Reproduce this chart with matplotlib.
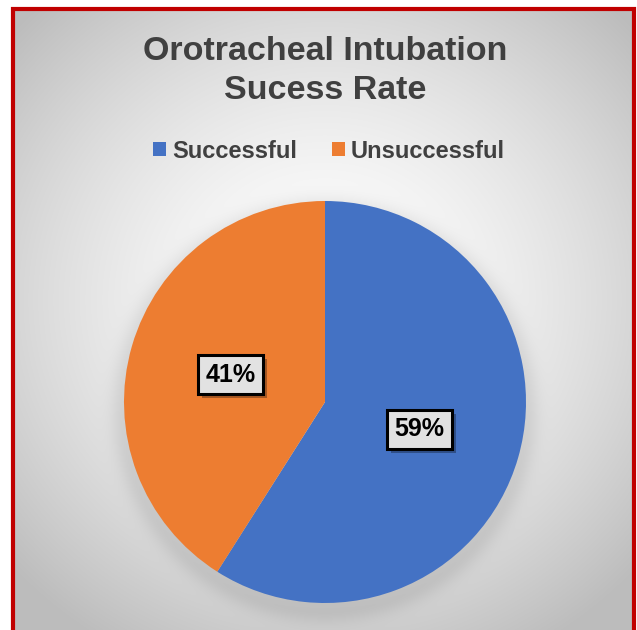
import numpy as np
import matplotlib.pyplot as plt
import matplotlib.patheffects as pe

plt.rcParams['font.family'] = ['Liberation Sans', 'DejaVu Sans']

# Data
categories = ['Successful', 'Unsuccessful']
values = [59, 41]
colors = ['#4472c4', '#ed7d31']
title = 'Orotracheal Intubation\nSucess Rate'

W, H = 637, 630
fig = plt.figure(figsize=(W / 100, H / 100), dpi=100)
fig.patch.set_facecolor('white')
ax = fig.add_axes([0, 0, 1, 1])
ax.axis('off')

# radial grey background with a soft halo under the pie (rows counted from the top)
yy, xx = np.mgrid[0:H, 0:W] + 0.5
r = np.hypot((xx - 325) / 420, (yy - 300) / 400)
bg = 1.0 - 0.26 * np.clip(r, 0, 1) ** 1.6
d = np.hypot(xx - 325, yy - 410)
halo = np.exp(-((d - 200).clip(0) / 14) ** 2) * 0.08
bg = bg - halo
bg[(xx < 13) | (xx > 634) | (yy < 9)] = 1.0
img = np.dstack([bg, bg, bg])
ax.imshow(img, extent=(0, W, 0, H), origin='upper', zorder=0, interpolation='bilinear')

# red frame (open at the bottom)
ax.plot([13, 13, 634, 634], [-10, H - 9, H - 9, -10], color='#c00000',
        lw=3, solid_joinstyle='miter', zorder=5)

# pie, clockwise from 12 o'clock
cx, cy, rad = 325, H - 402, 201
wedges, _, autotexts = ax.pie(values, colors=colors, startangle=90, counterclock=False,
                              center=(cx, cy), radius=rad, frame=True,
                              autopct=lambda p: f'{p:.0f}%', pctdistance=0.49,
                              wedgeprops=dict(linewidth=0), textprops=dict(zorder=4))
ax.set_xlim(0, W)
ax.set_ylim(0, H)
ax.set_aspect('auto')

for t in autotexts:
    t.set_fontsize(18)
    t.set_fontweight('bold')
    t.set_color('black')
    t.set_bbox(dict(boxstyle='square,pad=0.3', facecolor='#e2e2e2',
                    edgecolor='black', linewidth=2.2))
    t.get_bbox_patch().set_path_effects([
        pe.SimplePatchShadow(offset=(3, -3), shadow_rgbFace='black', alpha=0.3),
        pe.Normal()])

# title
ax.text(cx, H - 71, title, ha='center', va='center', fontsize=24.5,
        fontweight='bold', color='#404040', linespacing=1.35)

# legend
ax.legend(wedges, categories, loc='center', bbox_to_anchor=(329 / W, 1 - 151 / H),
          ncol=2, frameon=False, prop=dict(size=17, weight='bold'),
          handlelength=0.55, handleheight=0.55, handletextpad=0.25, columnspacing=1.5,
          labelcolor='#404040')

fig.savefig('out.png', dpi=100)
